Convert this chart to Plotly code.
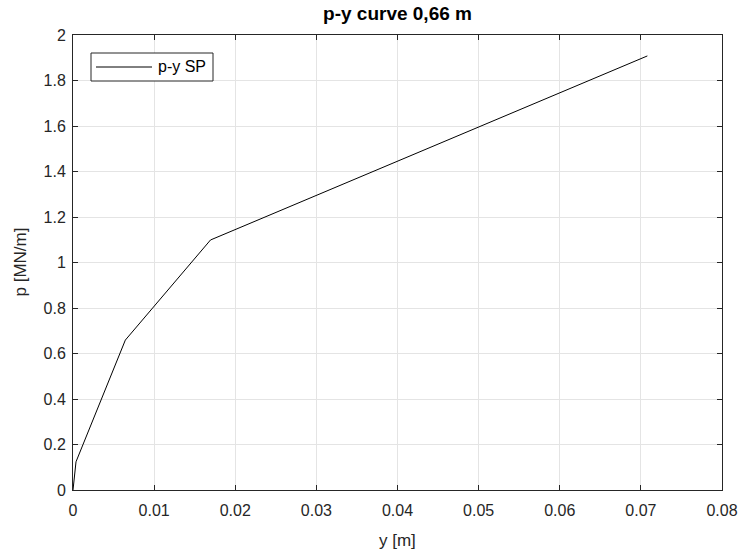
import plotly.graph_objects as go

# p-y curve points: lateral displacement y [m] and soil reaction p [MN/m]
y_disp = [0.0, 0.00037, 0.00645, 0.01695, 0.0708]
p_react = [0.0, 0.124, 0.659, 1.099, 1.908]

x_ticks = [0, 0.01, 0.02, 0.03, 0.04, 0.05, 0.06, 0.07, 0.08]
x_tick_text = ["0", "0.01", "0.02", "0.03", "0.04", "0.05", "0.06", "0.07", "0.08"]
y_ticks = [0, 0.2, 0.4, 0.6, 0.8, 1.0, 1.2, 1.4, 1.6, 1.8, 2.0]
y_tick_text = ["0", "0.2", "0.4", "0.6", "0.8", "1", "1.2", "1.4", "1.6", "1.8", "2"]

series_name = "p-y SP"
font_family = "Liberation Sans, Arial, Helvetica, sans-serif"
ink = "#262626"

W, H = 742, 552
L, R, T, B = 73, 20, 35, 62
plot_w, plot_h = W - L - R, H - T - B

fig = go.Figure()
fig.add_trace(go.Scatter(
    x=y_disp, y=p_react, mode="lines", name=series_name,
    line=dict(color="black", width=1), showlegend=False,
))

axis_common = dict(
    showline=True, linecolor=ink, linewidth=1, mirror="allticks",
    ticks="inside", ticklen=5, tickcolor=ink, automargin=False,
    showgrid=True, gridcolor="#e4e4e4", gridwidth=1,
    zeroline=False, tickfont=dict(size=16, color=ink, family=font_family),
)

# hand-drawn legend box in the upper-left corner of the axes
lx0, lx1 = 18 / plot_w, 140 / plot_w
ly1, ly0 = 1 - 18 / plot_h, 1 - 46 / plot_h
ly_mid = (ly0 + ly1) / 2
shapes = [
    dict(type="rect", xref="paper", yref="paper", x0=lx0, x1=lx1, y0=ly0, y1=ly1,
         line=dict(color=ink, width=1), fillcolor="white", layer="above"),
    dict(type="line", xref="paper", yref="paper", x0=23 / plot_w, x1=79 / plot_w,
         y0=ly_mid, y1=ly_mid, line=dict(color="black", width=1), layer="above"),
]
annotations = [
    dict(text=series_name, xref="paper", yref="paper", x=83 / plot_w, y=ly_mid,
         xanchor="left", yanchor="middle", showarrow=False,
         font=dict(size=16, color="black", family=font_family)),
    dict(text="y [m]", xref="paper", yref="paper", x=0.5, y=-(540 - (H - B)) / plot_h,
         xanchor="center", yanchor="middle", showarrow=False,
         font=dict(size=17, color=ink, family=font_family)),
    dict(text="p [MN/m]", xref="paper", yref="paper", x=-(L - 20) / plot_w, y=0.5,
         xanchor="center", yanchor="middle", showarrow=False, textangle=-90,
         font=dict(size=17, color=ink, family=font_family)),
]

fig.update_layout(
    width=W, height=H,
    margin=dict(l=L, r=R, t=T, b=B, autoexpand=False),
    paper_bgcolor="white", plot_bgcolor="white",
    font=dict(family=font_family, color=ink),
    title=dict(text="<b>p-y curve 0,66 m</b>", x=(L + plot_w / 2) / W, xanchor="center",
               xref="container", y=1 - 13 / H, yanchor="middle",
               font=dict(size=19, color="black", family=font_family)),
    xaxis=dict(range=[0, 0.08], tickvals=x_ticks, ticktext=x_tick_text,
               ticklabelstandoff=6, **axis_common),
    yaxis=dict(range=[0, 2], tickvals=y_ticks, ticktext=y_tick_text,
               ticklabelstandoff=3, **axis_common),
    shapes=shapes,
    annotations=annotations,
)

fig.write_html("out.html")
